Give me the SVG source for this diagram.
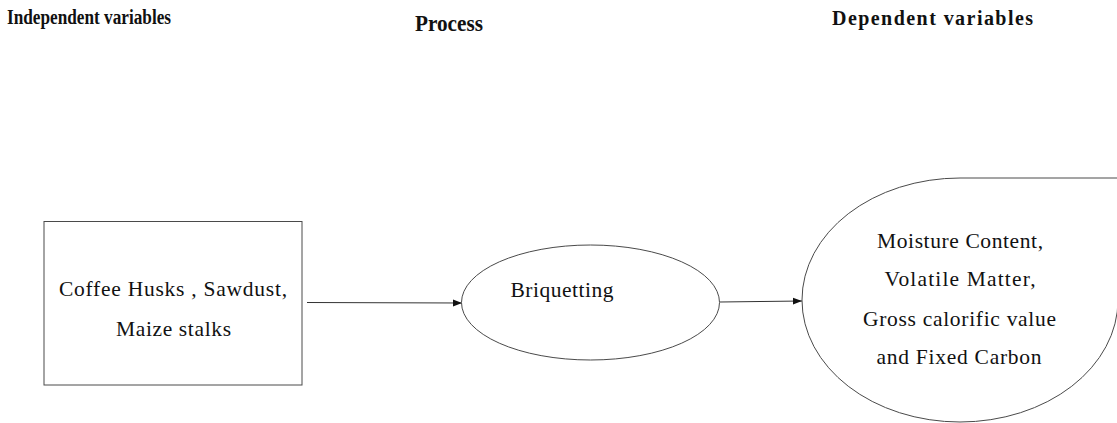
<svg xmlns="http://www.w3.org/2000/svg" width="1117" height="423" viewBox="0 0 1117 423">
<style>
.shape{fill:#fff;stroke:#4a4a4a;stroke-width:1}
.lbl{font-family:'Liberation Serif','DejaVu Serif',serif;font-size:21.5px;fill:#111;text-anchor:middle}
.hdr{font-family:'Liberation Serif','DejaVu Serif',serif;font-weight:bold;fill:#111}
.con{stroke:#333;stroke-width:1;fill:none}
</style>
<defs>
<marker id="ah" markerWidth="10" markerHeight="8" refX="9" refY="4" orient="auto" markerUnits="userSpaceOnUse">
<path d="M0,0.5 L9,4 L0,7.5 Z" fill="#111"/>
</marker>
</defs>
<rect width="1117" height="423" fill="#fff"/>
<g id="headers">
<text class="hdr" x="7" y="24" font-size="20.5" textLength="164" lengthAdjust="spacingAndGlyphs">Independent variables</text>
<text class="hdr" x="415" y="31" font-size="22.5" textLength="68" lengthAdjust="spacingAndGlyphs">Process</text>
<text class="hdr" x="832" y="25" font-size="20" textLength="201" lengthAdjust="spacing">Dependent variables</text>
</g>
<g id="connectors">
<line class="con" x1="307" y1="302.5" x2="462" y2="303" marker-end="url(#ah)"/>
<line class="con" x1="720" y1="302" x2="802" y2="301" marker-end="url(#ah)"/>
</g>
<g id="node-inputs">
<rect class="shape" x="44" y="221.5" width="258" height="163.5"/>
<text class="lbl" x="173" y="296" textLength="228" lengthAdjust="spacing">Coffee Husks , Sawdust,</text>
<text class="lbl" x="173.5" y="336" textLength="115" lengthAdjust="spacing">Maize stalks</text>
</g>
<g id="node-process">
<ellipse class="shape" cx="590.5" cy="302.5" rx="129" ry="57.5"/>
<text class="lbl" x="562" y="297" textLength="103" lengthAdjust="spacing">Briquetting</text>
</g>
<g id="node-outputs">
<path class="shape" d="M1130,178 L960,178 A158,122 0 1 0 1118,300"/>
<text class="lbl" x="960" y="248" textLength="166" lengthAdjust="spacing">Moisture Content,</text>
<text class="lbl" x="960" y="286" textLength="151" lengthAdjust="spacing">Volatile Matter,</text>
<text class="lbl" x="959.5" y="326" textLength="193" lengthAdjust="spacing">Gross calorific value</text>
<text class="lbl" x="959" y="364" textLength="165" lengthAdjust="spacing">and Fixed Carbon</text>
</g>
</svg>
